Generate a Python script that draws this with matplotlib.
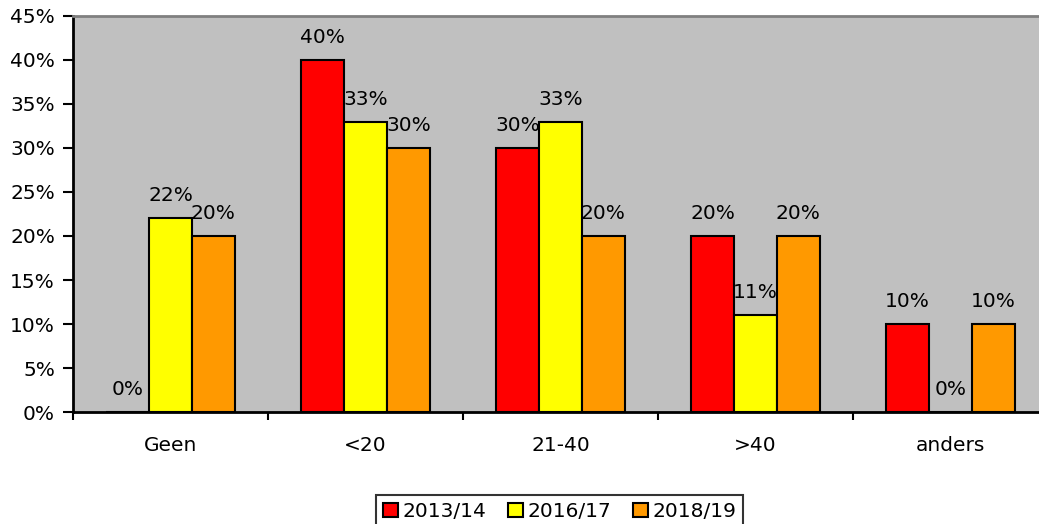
import numpy as np
import matplotlib
matplotlib.use("Agg")
from matplotlib import pyplot as plt
from matplotlib.ticker import FuncFormatter

categories = ["Geen", "<20", "21-40", ">40", "anders"]
years = ["2013/14", "2016/17", "2018/19"]
v2013 = [0, 40, 30, 20, 10]
v2016 = [22, 33, 33, 11, 0]
v2018 = [20, 30, 20, 20, 10]
colors = ["#FF0000", "#FFFF00", "#FF9900"]

fs = 14.5
plt.rcParams['font.family'] = ['DejaVu Sans']
plt.rcParams['font.size'] = fs

fig = plt.figure(figsize=(10.39, 5.24), dpi=100)
# plot area runs a little past the right edge of the picture
ax = fig.add_axes([73 / 1039, 112 / 524, 975 / 1039, 396 / 524])
ax.set_facecolor("#C0C0C0")

x = np.arange(len(categories))
w = 0.22
for i, (vals, col, lab) in enumerate(zip([v2013, v2016, v2018], colors, years)):
    bars = ax.bar(x + (i - 1) * w, vals, w, color=col, edgecolor="black",
                  linewidth=1.5, label=lab)
    for b, v in zip(bars, vals):
        ax.annotate(f"{v}%", (b.get_x() + b.get_width() / 2, v),
                    xytext=(0, 13), textcoords="offset pixels",
                    ha="center", va="bottom", fontsize=fs)

ax.set_xlim(-0.5, len(categories) - 0.5)
ax.set_ylim(0, 45)
ax.set_yticks(range(0, 46, 5))
ax.yaxis.set_major_formatter(FuncFormatter(lambda v, p: f"{v:.0f}%"))
ax.set_xticks(x)
ax.set_xticklabels(categories)
ax.set_xticks(np.arange(-0.5, len(categories), 1), minor=True)
ax.tick_params(axis="x", which="major", length=0, pad=17)
ax.tick_params(axis="x", which="minor", length=6, width=1.5, direction="out")
ax.tick_params(axis="y", length=7, width=1.5, direction="out", pad=6)

ax.spines["left"].set_linewidth(2)
ax.spines["bottom"].set_linewidth(2)
ax.spines["top"].set_color("#808080")
ax.spines["top"].set_linewidth(2)
ax.spines["right"].set_visible(False)

leg = fig.legend(loc="upper center", bbox_to_anchor=(559.5 / 1039, 1 - 485 / 524),
                 ncol=3, frameon=True, fancybox=False, edgecolor="black",
                 handlelength=0.75, handleheight=0.75, handletextpad=0.2,
                 columnspacing=1.1, borderpad=0.35, fontsize=fs)
leg.get_frame().set_linewidth(1.5)

plt.savefig("out.png", dpi=100)
